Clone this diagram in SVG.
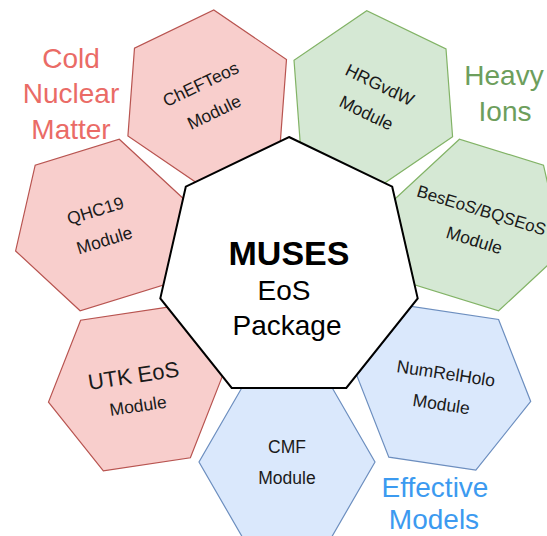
<svg xmlns="http://www.w3.org/2000/svg" width="547" height="536" viewBox="0 0 547 536">
<style>
text{font-family:"Liberation Sans",Arial,Helvetica,sans-serif;text-anchor:middle}
.hex{stroke-width:1.2}
.red{fill:#f8cecc;stroke:#b85450}
.green{fill:#d5e8d4;stroke:#82b366}
.blue{fill:#dae8fc;stroke:#6c8ebf}
.mod{font-size:17.5px;fill:#1a1a1a}
.lab{font-size:28px}
.lr{fill:#ea6b66}
.lg{fill:#6d9e5c}
.lb{fill:#3c9af0}
</style>
<defs>
<polygon id="hexShape" points="88,0 44,76.21 -44,76.21 -88,0 -44,-76.21 44,-76.21"/>
</defs>
<rect width="547" height="536" fill="#ffffff"/>
<g id="connectors"/>
<g id="node-chefteos" transform="translate(207.2,97.7) rotate(-25.71)">
<use href="#hexShape" class="hex red"/>
<text class="mod" y="-9">ChEFTeos</text>
<text class="mod" y="22">Module</text>
</g>
<g id="node-hrgvdw" transform="translate(373.3,98.5) rotate(25.71)">
<use href="#hexShape" class="hex green"/>
<text class="mod" y="-9">HRGvdW</text>
<text class="mod" y="22">Module</text>
</g>
<g id="node-beseos" transform="translate(479,225) rotate(17.14)">
<use href="#hexShape" class="hex green"/>
<text class="mod" x="-2" y="-9" style="font-size:17px">BesEoS/BQSEoS</text>
<text class="mod" y="22">Module</text>
</g>
<g id="node-numrelholo" transform="translate(443.7,388.3) rotate(8.57)">
<use href="#hexShape" class="hex blue"/>
<text class="mod" y="-9">NumRelHolo</text>
<text class="mod" y="22">Module</text>
</g>
<g id="node-cmf" transform="translate(287,462)">
<use href="#hexShape" class="hex blue"/>
<text class="mod" y="-9">CMF</text>
<text class="mod" y="22">Module</text>
</g>
<g id="node-utk" transform="translate(135.5,389) rotate(-8.57)">
<use href="#hexShape" class="hex red"/>
<text class="mod" y="-6" style="font-size:22px">UTK EoS</text>
<text class="mod" y="23">Module</text>
</g>
<g id="node-qhc19" transform="translate(99.7,225) rotate(-17.14)">
<use href="#hexShape" class="hex red"/>
<text class="mod" y="-9">QHC19</text>
<text class="mod" y="22">Module</text>
</g>
<g id="node-muses">
<polygon points="289,137 392.2,186.7 417.7,298.4 346.3,387.9 231.7,387.9 160.3,298.4 185.8,186.7" fill="#ffffff" stroke="#000000" stroke-width="2"/>
<text x="289" y="265" style="font-size:34px;font-weight:bold" fill="#000">MUSES</text>
<text x="284" y="300" style="font-size:28px" fill="#000">EoS</text>
<text x="287" y="335" style="font-size:28px" fill="#000">Package</text>
</g>
<g id="label-cold">
<text class="lab lr" x="71" y="67.5">Cold</text>
<text class="lab lr" x="71" y="103">Nuclear</text>
<text class="lab lr" x="71" y="138.5">Matter</text>
</g>
<g id="label-heavy">
<text class="lab lg" x="504" y="85">Heavy</text>
<text class="lab lg" x="505" y="121">Ions</text>
</g>
<g id="label-effective">
<text class="lab lb" x="435" y="497">Effective</text>
<text class="lab lb" x="434" y="529">Models</text>
</g>
</svg>
